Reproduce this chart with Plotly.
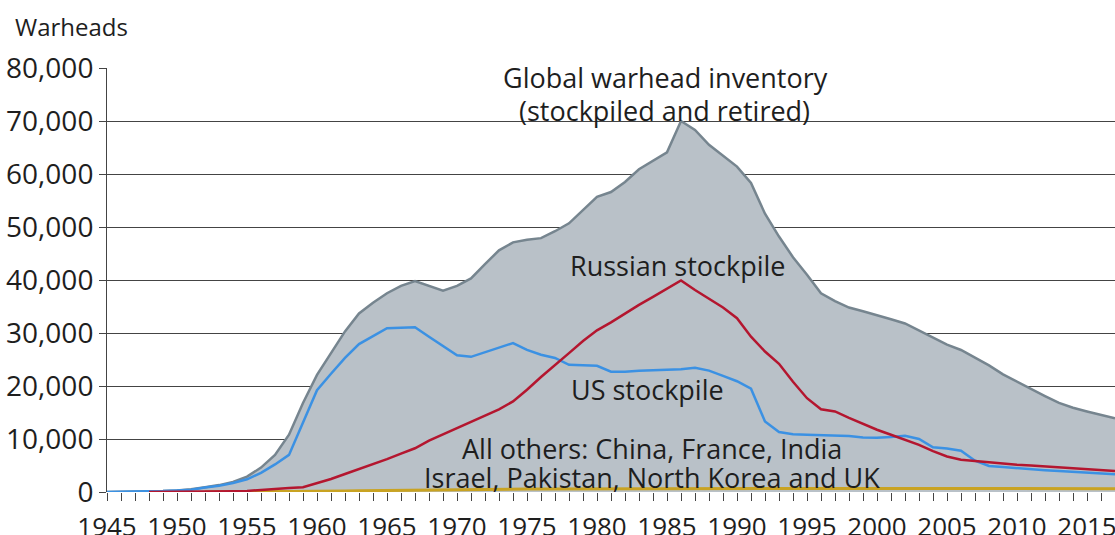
import plotly.graph_objects as go

years = list(range(1945, 2018))

global_inventory = [
    2, 9, 13, 50, 170, 300, 500, 900, 1300, 1900,            # 1945-1954
    2900, 4600, 7000, 10800, 16800, 22100, 26300, 30300, 33700, 35700,  # 1955-1964
    37500, 38900, 39800, 38950, 38000, 38900, 40300, 43000, 45600, 47100,  # 1965-1974
    47600, 47900, 49200, 50700, 53200, 55700, 56600, 58500, 60900, 62500,  # 1975-1984
    64100, 70000, 68300, 65500, 63500, 61400, 58300, 52500, 48200, 44300,  # 1985-1994
    41000, 37500, 36000, 34800, 34100, 33400, 32600, 31800, 30500, 29100,  # 1995-2004
    27800, 26800, 25300, 23900, 22200, 20800, 19500, 18100, 16800, 15900,  # 2005-2014
    15200, 14500, 13900,                                      # 2015-2017
]

us_stockpile = [
    2, 9, 13, 50, 170, 300, 440, 840, 1170, 1700,
    2400, 3600, 5200, 7000, 13000, 19200, 22300, 25300, 27900, 29400,
    30900, 31000, 31100, 29300, 27500, 25800, 25500, 26400, 27300, 28100,
    26800, 25900, 25300, 24000, 23900, 23800, 22700, 22700, 22900, 23000,
    23000, 23150, 23450, 22900, 21900, 20900, 19500, 13300, 11300, 10900,
    10800, 10750, 10700, 10550, 10300, 10250, 10400, 10600, 10000, 8450,
    8200, 7800, 5900, 4900, 4700, 4500, 4200, 4100, 3950, 3800,
    3650, 3500, 3350,
]

russia_stockpile = [
    None, None, None, 0, 1, 5, 25, 50, 120, 150,
    200, 420, 600, 750, 900, 1650, 2450, 3400, 4300, 5300,
    6200, 7250, 8250, 9700, 10900, 12000, 13150, 14400, 15600, 17100,
    19300, 21700, 23900, 26200, 28500, 30500, 32000, 33700, 35300, 36800,
    38400, 39900, 38100, 36400, 34800, 32800, 29300, 26500, 24200, 20800,
    17700, 15600, 15200, 14000, 12850, 11750, 10800, 9850, 8900, 7700,
    6700, 6100, 5850, 5600, 5300, 5150, 5000, 4850, 4700, 4550,
    4400, 4200, 3960,
]

others_stockpile = [
    None, None, None, None, None, None, None, 0, 5, 10,
    20, 30, 40, 60, 80, 100, 130, 170, 220, 260,
    300, 340, 380, 420, 450, 480, 500, 520, 540, 560,
    570, 580, 590, 600, 610, 620, 630, 640, 650, 660,
    670, 680, 680, 680, 680, 680, 680, 680, 680, 680,
    680, 680, 680, 680, 680, 680, 670, 670, 660, 650,
    640, 630, 620, 620, 620, 620, 620, 620, 620, 620,
    620, 620, 620,
]

labels = [
    ("Global warhead inventory", 1984.88, 78300),
    ("(stockpiled and retired)", 1984.8, 72075),
    ("Russian stockpile", 1985.8, 42830),
    ("US stockpile", 1983.6, 19434),
    ("All others: China, France, India", 1983.9, 8300),
    ("Israel, Pakistan, North Korea and UK", 1983.95, 2830),
]

FONT = "Open Sans"
TXT = "#1e1e1e"

fig = go.Figure()
fig.add_trace(go.Scatter(
    x=years, y=global_inventory, mode="lines", fill="tozeroy",
    fillcolor="#b9c1c8", line=dict(color="#76858f", width=2.5),
    hoverinfo="skip", showlegend=False))
fig.add_trace(go.Scatter(
    x=years, y=others_stockpile, mode="lines",
    line=dict(color="#c9a322", width=3), showlegend=False))
fig.add_trace(go.Scatter(
    x=years, y=us_stockpile, mode="lines",
    line=dict(color="#3b91e3", width=2.5), showlegend=False))
fig.add_trace(go.Scatter(
    x=years, y=russia_stockpile, mode="lines",
    line=dict(color="#b4162f", width=2.5), showlegend=False))

for text, xv, yv in labels:
    fig.add_annotation(x=xv, y=yv, xref="x", yref="y", text=text,
                       showarrow=False, xanchor="center", yanchor="middle",
                       font=dict(family=FONT, size=27, color=TXT))

fig.add_annotation(x=-0.0933, y=1.0967, xref="paper", yref="paper",
                   text="Warheads", showarrow=False, xanchor="left",
                   yanchor="middle", font=dict(family=FONT, size=24, color=TXT))

fig.update_layout(
    width=1115, height=535,
    margin=dict(l=107, r=0, t=68, b=43, autoexpand=False),
    paper_bgcolor="white", plot_bgcolor="white",
    font=dict(family=FONT, color=TXT),
    xaxis=dict(
        range=[1945, 2017], tickmode="linear", tick0=1945, dtick=5,
        ticks="outside", ticklen=8, tickwidth=1, tickcolor="#444",
        minor=dict(dtick=1, tick0=1945, ticks="outside", ticklen=8,
                   tickwidth=1, tickcolor="#444", showgrid=False),
        showgrid=False, zeroline=False, showline=False,
        automargin=False, ticklabeloverflow="allow",
        ticklabelstandoff=4,
        tickfont=dict(family=FONT, size=26, color=TXT),
    ),
    yaxis=dict(
        range=[0, 80000], tickmode="linear", tick0=0, dtick=10000,
        tickformat=",d", ticks="outside", ticklen=7, tickwidth=1,
        tickcolor="#444", showgrid=True, gridcolor="#444", gridwidth=1,
        zeroline=False, showline=True, linecolor="#444", linewidth=1,
        automargin=False, ticklabeloverflow="allow",
        tickfont=dict(family=FONT, size=28, color=TXT),
    ),
)

fig.write_html(
    "out.html",
    config={"displayModeBar": False},
    post_script="document.body.style.margin='0';document.body.style.overflow='hidden';",
)
